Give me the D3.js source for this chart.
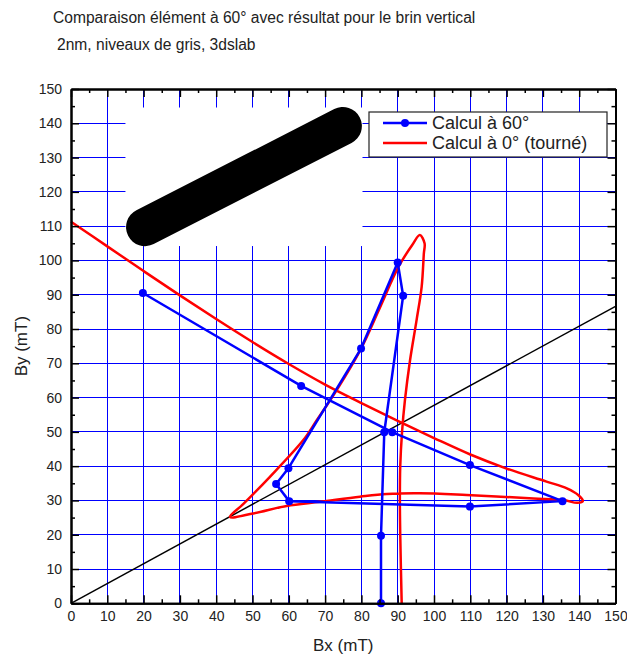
<!DOCTYPE html>
<html>
<head>
<meta charset="utf-8">
<script src="https://cdn.jsdelivr.net/npm/d3@7"></script>
<style>
  body { margin: 0; background: #fff; }
  text { font-family: "Liberation Sans", Arial, sans-serif; fill: #222; }
</style>
</head>
<body>
<div id="chart"></div>
<script>
// values
const majorTicks = d3.range(0, 151, 10);
const minorTicks = d3.range(5, 150, 10);

// Calcul à 60° (blue, with markers)
const blueBx = [85.4, 85.4, 86.3, 91.5, 90.0, 79.9, 59.9, 56.5, 60.1, 109.9, 135.4, 109.9, 88.5, 63.4, 19.8];
const blueBy = [0, 19.7, 49.9, 89.7, 99.4, 74.3, 39.4, 34.8, 29.8, 28.2, 29.8, 40.3, 49.9, 63.4, 90.5];

// Calcul à 0° (tourné) (red, smooth)
const redBx = [0, 10, 20, 30, 40, 50, 60, 70, 80, 90, 100, 110, 120, 131, 136.6, 139.8, 141, 139.5, 135.6, 127.4,
               109, 96, 87, 79.6, 68.6, 59.4, 50.2, 43.8, 47.5, 54.8, 64, 67.7, 73.2, 79.9, 85, 90.2, 94, 96.1, 97.4, 97.2,
               96.6, 95.2, 93.4, 92, 91.2, 90.7, 90.6, 90.7, 91.1];
const redBy = [111.3, 104.1, 96.9, 89.8, 82.9, 76.2, 69.8, 63.8, 58.4, 53.2, 48.2, 43.4, 39.3, 35.5, 33.5, 31.5, 29.8, 29.3, 30.1, 30.6,
               31.6, 32.1, 31.9, 31.1, 29.6, 28.4, 26.2, 25.2, 29, 36.9, 47.6, 53.4, 62.2, 74.3, 86, 98.1, 104.5, 107.4, 105, 102,
               92.3, 82.6, 70.9, 59.3, 50, 40, 30, 20, 0];

// 60° reference line : By = Bx * tan(30°)
const refLine = [[0, 0], [150, 150 * Math.tan(Math.PI / 6)]];

// inset picture of the element (data coords)
const insetBox = {x0: 15, x1: 80.3, y0: 104.2, y1: 144.6};
const barEnds = [[20.4, 109.7], [74.9, 139.2]];

const seriesNames = ["Calcul à 60°", "Calcul à 0° (tourné)"];

const width = 627, height = 654;
const margin = {top: 89, right: 11.5, bottom: 50.7, left: 71};

const svg = d3.select("#chart").append("svg")
    .attr("width", width)
    .attr("height", height);

const x = d3.scaleLinear().domain([0, 150]).range([margin.left, width - margin.right]);
const y = d3.scaleLinear().domain([0, 150]).range([height - margin.bottom, margin.top]);

// title
svg.append("text").attr("x", 53).attr("y", 23).attr("font-size", 15.6)
    .text("Comparaison élément à 60° avec résultat pour le brin vertical");
svg.append("text").attr("x", 57).attr("y", 50).attr("font-size", 15.6)
    .text("2nm, niveaux de gris, 3dslab");

// grid
const grid = svg.append("g").attr("stroke", "#0000ff").attr("stroke-width", 1).attr("shape-rendering", "crispEdges");
grid.selectAll(".v").data(majorTicks.slice(1, -1)).join("line")
    .attr("x1", d => x(d)).attr("x2", d => x(d))
    .attr("y1", y(0)).attr("y2", y(150));
grid.selectAll(".h").data(majorTicks.slice(1, -1)).join("line")
    .attr("y1", d => y(d)).attr("y2", d => y(d))
    .attr("x1", x(0)).attr("x2", x(150));

// inset image of the element
svg.append("rect")
    .attr("x", x(insetBox.x0)).attr("y", y(insetBox.y1))
    .attr("width", x(insetBox.x1) - x(insetBox.x0))
    .attr("height", y(insetBox.y0) - y(insetBox.y1))
    .attr("fill", "#fff");
svg.append("line")
    .attr("x1", x(barEnds[0][0])).attr("y1", y(barEnds[0][1]))
    .attr("x2", x(barEnds[1][0])).attr("y2", y(barEnds[1][1]))
    .attr("stroke", "#000").attr("stroke-width", 38).attr("stroke-linecap", "round");

// reference line
svg.append("line")
    .attr("x1", x(refLine[0][0])).attr("y1", y(refLine[0][1]))
    .attr("x2", x(refLine[1][0])).attr("y2", y(refLine[1][1]))
    .attr("stroke", "#000").attr("stroke-width", 1.5);

// red curve
const redPts = redBx.map((d, i) => [d, redBy[i]]);
svg.append("path")
    .datum(redPts)
    .attr("fill", "none").attr("stroke", "#ff0000").attr("stroke-width", 2.5)
    .attr("stroke-linejoin", "round")
    .attr("d", d3.line().x(d => x(d[0])).y(d => y(d[1])).curve(d3.curveCatmullRom.alpha(0.5)));

// blue series
const bluePts = blueBx.map((d, i) => [d, blueBy[i]]);
svg.append("path")
    .datum(bluePts)
    .attr("fill", "none").attr("stroke", "#0000ff").attr("stroke-width", 2.5)
    .attr("stroke-linejoin", "round")
    .attr("d", d3.line().x(d => x(d[0])).y(d => y(d[1])));
svg.append("g").selectAll("circle").data(bluePts).join("circle")
    .attr("cx", d => x(d[0])).attr("cy", d => y(d[1])).attr("r", 4)
    .attr("fill", "#0000ff");

// axes
const styleAxis = g => {
    g.select(".domain").attr("stroke", "#000").attr("stroke-width", 2);
    g.selectAll(".tick line").attr("stroke", "#000").attr("stroke-width", 1.5);
    g.selectAll("text").attr("font-size", 14).attr("fill", "#222")
        .attr("font-family", "'Liberation Sans', Arial, sans-serif");
};

svg.append("g").attr("transform", `translate(0,${y(0)})`)
    .call(d3.axisBottom(x).tickValues(majorTicks).tickSize(-8).tickSizeOuter(0).tickPadding(8))
    .call(styleAxis);
svg.append("g").attr("transform", `translate(0,${y(0)})`)
    .call(d3.axisBottom(x).tickValues(minorTicks).tickSize(-4).tickSizeOuter(0).tickFormat(""))
    .call(styleAxis);
svg.append("g").attr("transform", `translate(${x(0)},0)`)
    .call(d3.axisLeft(y).tickValues(majorTicks).tickSize(-8).tickSizeOuter(0).tickPadding(9))
    .call(styleAxis);
svg.append("g").attr("transform", `translate(${x(0)},0)`)
    .call(d3.axisLeft(y).tickValues(minorTicks).tickSize(-4).tickSizeOuter(0).tickFormat(""))
    .call(styleAxis);
svg.append("g").attr("transform", `translate(0,${y(150)})`)
    .call(d3.axisTop(x).tickValues(majorTicks).tickSize(-8).tickSizeOuter(0).tickFormat(""))
    .call(styleAxis);
svg.append("g").attr("transform", `translate(0,${y(150)})`)
    .call(d3.axisTop(x).tickValues(minorTicks).tickSize(-4).tickSizeOuter(0).tickFormat(""))
    .call(styleAxis);
svg.append("g").attr("transform", `translate(${x(150)},0)`)
    .call(d3.axisRight(y).tickValues(majorTicks).tickSize(-8).tickSizeOuter(0).tickFormat(""))
    .call(styleAxis);
svg.append("g").attr("transform", `translate(${x(150)},0)`)
    .call(d3.axisRight(y).tickValues(minorTicks).tickSize(-4).tickSizeOuter(0).tickFormat(""))
    .call(styleAxis);

// axis titles
svg.append("text")
    .attr("x", (x(0) + x(150)) / 2).attr("y", 651)
    .attr("text-anchor", "middle").attr("font-size", 17)
    .text("Bx (mT)");
svg.append("text")
    .attr("transform", `translate(27,${(y(0) + y(150)) / 2}) rotate(-90)`)
    .attr("text-anchor", "middle").attr("font-size", 17)
    .text("By (mT)");

// legend
const legend = svg.append("g").attr("transform", "translate(369,112)");
legend.append("rect").attr("width", 238).attr("height", 45)
    .attr("fill", "#fff").attr("stroke", "#222").attr("stroke-width", 1.2);
const legendColors = ["#0000ff", "#ff0000"];
seriesNames.forEach((name, i) => {
    const ly = 11 + i * 20;
    legend.append("line").attr("x1", 14).attr("x2", 58).attr("y1", ly).attr("y2", ly)
        .attr("stroke", legendColors[i]).attr("stroke-width", 2.5);
    if (i === 0) {
        legend.append("circle").attr("cx", 36).attr("cy", ly).attr("r", 4).attr("fill", legendColors[i]);
    }
    legend.append("text").attr("x", 63).attr("y", ly + 6).attr("font-size", 18).text(name);
});
</script>
</body>
</html>
